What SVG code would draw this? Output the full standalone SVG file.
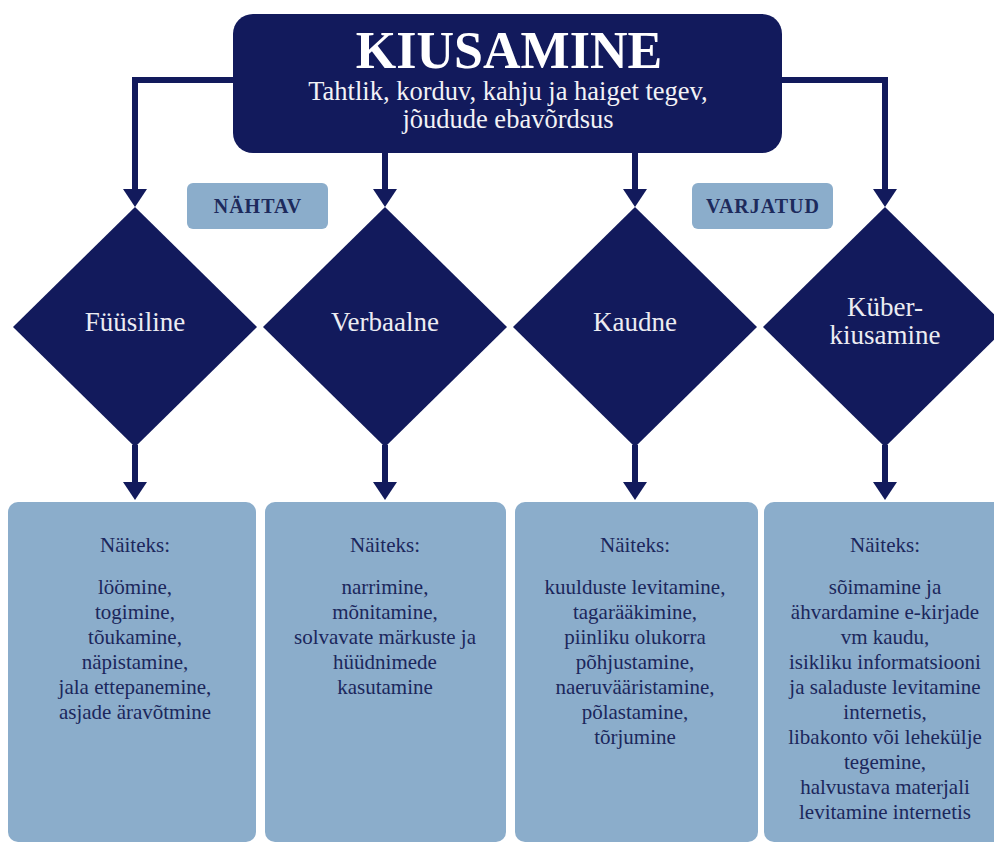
<svg xmlns="http://www.w3.org/2000/svg" width="994" height="843" viewBox="0 0 994 843">
<defs>
<style>
.navy{fill:#121a5c}
.light{fill:#8badcb}
.conn{fill:none;stroke:#121a5c;stroke-width:6;stroke-linejoin:miter;marker-end:url(#ah)}
.title{font-family:"Liberation Serif","Times New Roman",serif;font-weight:bold;font-size:52px;fill:#ffffff;text-anchor:middle}
.sub{font-family:"Liberation Serif","Times New Roman",serif;font-size:26.5px;fill:#f2f2f6;text-anchor:middle}
.cat{font-family:"Liberation Serif","Times New Roman",serif;font-weight:bold;font-size:20px;letter-spacing:1px;fill:#1d2a5c;text-anchor:middle}
.dtext{font-family:"Liberation Serif","Times New Roman",serif;font-size:27px;fill:#ececf2;text-anchor:middle}
.btext{font-family:"Liberation Serif","Times New Roman",serif;font-size:21px;fill:#1b275c;text-anchor:middle}
</style>
<marker id="ah" markerUnits="userSpaceOnUse" markerWidth="20" markerHeight="26" viewBox="0 0 20 26" refX="8" refY="13" orient="auto">
<path d="M0,1 L18,13 L0,25 z" fill="#121a5c"/>
</marker>
</defs>
<rect width="994" height="843" fill="#ffffff"/>

<g id="connectors">
<path class="conn" d="M236,80 H135 V197"/>
<path class="conn" d="M385,150 V197"/>
<path class="conn" d="M635,150 V197"/>
<path class="conn" d="M779,80 H885 V197"/>
<path class="conn" d="M135,445 V490"/>
<path class="conn" d="M385,445 V490"/>
<path class="conn" d="M635,445 V490"/>
<path class="conn" d="M885,445 V490"/>
</g>

<g id="kiusamine">
<rect class="navy" x="233" y="14" width="549" height="139" rx="20"/>
<text class="title" x="509" y="68">KIUSAMINE</text>
<text class="sub" x="508" y="100">Tahtlik, korduv, kahju ja haiget tegev,</text>
<text class="sub" x="508" y="128">jõudude ebavõrdsus</text>
</g>

<g id="nahtav">
<rect class="light" x="187" y="183" width="141" height="46" rx="6"/>
<text class="cat" x="258" y="213">NÄHTAV</text>
</g>
<g id="varjatud">
<rect class="light" x="692" y="183" width="141" height="46" rx="6"/>
<text class="cat" x="763" y="213">VARJATUD</text>
</g>

<g id="fuusiline">
<polygon class="navy" points="135,207 257,327 135,447 13,327"/>
<text class="dtext" x="135" y="331">Füüsiline</text>
</g>
<g id="verbaalne">
<polygon class="navy" points="385,207 507,327 385,447 263,327"/>
<text class="dtext" x="385" y="331">Verbaalne</text>
</g>
<g id="kaudne">
<polygon class="navy" points="635,207 757,327 635,447 513,327"/>
<text class="dtext" x="635" y="331">Kaudne</text>
</g>
<g id="kuberkiusamine">
<polygon class="navy" points="885,207 1007,327 885,447 763,327"/>
<text class="dtext" x="885" y="316">Küber-</text>
<text class="dtext" x="885" y="344">kiusamine</text>
</g>

<g id="naited-fuusiline">
<rect class="light" x="8" y="502" width="248" height="340" rx="10"/>
<text class="btext" x="135" y="552">Näiteks:</text>
<text class="btext" x="135" y="594">löömine,</text>
<text class="btext" x="135" y="619">togimine,</text>
<text class="btext" x="135" y="644">tõukamine,</text>
<text class="btext" x="135" y="669">näpistamine,</text>
<text class="btext" x="135" y="694">jala ettepanemine,</text>
<text class="btext" x="135" y="719">asjade äravõtmine</text>
</g>
<g id="naited-verbaalne">
<rect class="light" x="265" y="502" width="241" height="340" rx="10"/>
<text class="btext" x="385" y="552">Näiteks:</text>
<text class="btext" x="385" y="594">narrimine,</text>
<text class="btext" x="385" y="619">mõnitamine,</text>
<text class="btext" x="385" y="644">solvavate märkuste ja</text>
<text class="btext" x="385" y="669">hüüdnimede</text>
<text class="btext" x="385" y="694">kasutamine</text>
</g>
<g id="naited-kaudne">
<rect class="light" x="515" y="502" width="243" height="340" rx="10"/>
<text class="btext" x="635" y="552">Näiteks:</text>
<text class="btext" x="635" y="594">kuulduste levitamine,</text>
<text class="btext" x="635" y="619">tagarääkimine,</text>
<text class="btext" x="635" y="644">piinliku olukorra</text>
<text class="btext" x="635" y="669">põhjustamine,</text>
<text class="btext" x="635" y="694">naeruvääristamine,</text>
<text class="btext" x="635" y="719">põlastamine,</text>
<text class="btext" x="635" y="744">tõrjumine</text>
</g>
<g id="naited-kuber">
<rect class="light" x="764" y="502" width="244" height="340" rx="10"/>
<text class="btext" x="885" y="552">Näiteks:</text>
<text class="btext" x="885" y="594">sõimamine ja</text>
<text class="btext" x="885" y="619">ähvardamine e-kirjade</text>
<text class="btext" x="885" y="644">vm kaudu,</text>
<text class="btext" x="885" y="669">isikliku informatsiooni</text>
<text class="btext" x="885" y="694">ja saladuste levitamine</text>
<text class="btext" x="885" y="719">internetis,</text>
<text class="btext" x="885" y="744">libakonto või lehekülje</text>
<text class="btext" x="885" y="769">tegemine,</text>
<text class="btext" x="885" y="794">halvustava materjali</text>
<text class="btext" x="885" y="819">levitamine internetis</text>
</g>
</svg>
